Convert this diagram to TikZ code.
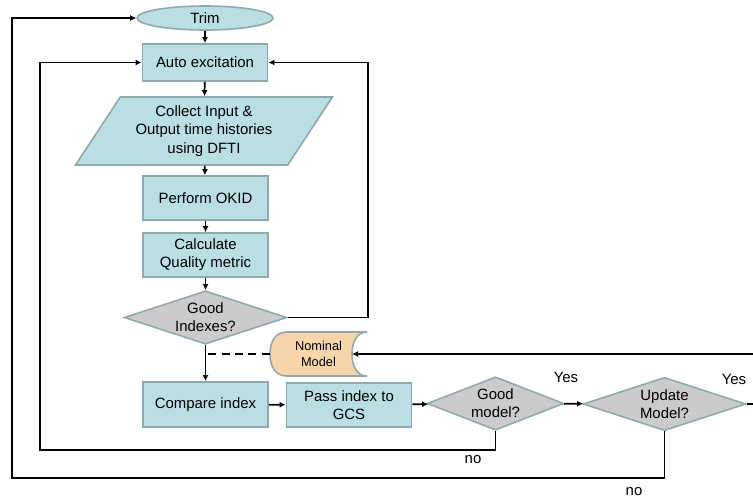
\documentclass[tikz,border=0pt]{standalone}
\usepackage{fontspec}
\setmainfont{Liberation Sans}
\usetikzlibrary{shapes.geometric,arrows.meta}
\definecolor{boxfill}{HTML}{B9DFE2}
\definecolor{boxline}{HTML}{8FA9AD}
\definecolor{decfill}{HTML}{CBCBCB}
\definecolor{nomfill}{HTML}{F7D4AA}
\tikzset{
  box/.style={draw=boxline, line width=1.2pt, fill=boxfill, minimum width=94pt, minimum height=33pt, align=center, inner sep=1pt},
  decision/.style={diamond, draw=boxline, line width=1.2pt, fill=decfill, aspect=3, inner sep=0pt, align=center, minimum width=122pt, minimum height=40pt},
  conn/.style={line width=1.3pt, -{Latex[length=4.5pt,width=4.5pt]}},
  line/.style={line width=1.3pt},
}
\begin{document}
\begin{tikzpicture}[x=0.75pt,y=-0.75pt,font=\fontsize{11.2}{13.7}\selectfont]
\useasboundingbox (0,0) rectangle (753,500);
% nominal model store
\fill[nomfill] (287,332) .. controls (275,332) and (270,342) .. (270,354) .. controls (270,366) and (275,376) .. (287,376) -- (367,376) .. controls (357,376) and (352,366) .. (352,354) .. controls (352,342) and (357,332) .. (367,332) -- cycle;
\draw[boxline, line width=1.2pt] (287,332) .. controls (275,332) and (270,342) .. (270,354) .. controls (270,366) and (275,376) .. (287,376) -- (367,376) .. controls (357,376) and (352,366) .. (352,354) .. controls (352,342) and (357,332) .. (367,332) -- cycle;
\path
(205,18) node [ellipse, draw=boxline, line width=1.2pt, fill=boxfill, minimum width=102pt, minimum height=18pt, inner sep=0pt] (trim) {Trim}
(205,62.5) node [box, minimum height=28pt] (auto) {Auto excitation}
(204,131) node [trapezium, trapezium left angle=54, trapezium right angle=126, trapezium stretches=true, draw=boxline, line width=1.2pt, fill=boxfill, minimum width=193pt, minimum height=51pt, align=center, inner sep=0pt] (collect) {Collect Input \&\\Output time histories\\using DFTI}
(205.5,198) node [box] (okid) {Perform OKID}
(205.5,255) node [box] (calc) {Calculate\\Quality metric}
(205.5,317.5) node [decision] (gidx) {Good\\Indexes?}
(318.5,354) node [minimum width=73pt, minimum height=33pt, inner sep=0pt, align=center, font=\fontsize{9.6}{12}\selectfont] (nominal) {Nominal\\Model}
(205.5,404.5) node [box, minimum height=34pt] (compare) {Compare index}
(349,405) node [box] (pass) {Pass index to\\GCS}
(495.5,403.5) node [decision, minimum width=101pt] (gmodel) {Good\\model?}
(664.5,404) node [decision] (umodel) {Update\\Model?}
(566,377) node (yes1) {Yes}
(734,379) node (yes2) {Yes}
(473,460) node (no1) {no}
(634,492) node (no2) {no};
\coordinate (nomin) at (352,354);

\draw[conn] (trim) -- (auto);
\draw[conn] (auto) -- (collect);
\draw[conn] (collect) -- (okid);
\draw[conn] (okid) -- (calc);
\draw[conn] (calc) -- (gidx);
\draw[conn] (gidx) -- (compare);
\draw[conn] (compare) -- (pass);
\draw[conn] (pass) -- (gmodel);
\draw[conn] (gmodel) -- (umodel);
\draw[conn] (gidx.east) -- ++(80,0) |- (auto.east);
\draw[line, dash pattern=on 6pt off 4pt] (nominal.west) -- (gidx.south |- nominal.west);
\draw[conn] (umodel.east) -- (760,404) |- (nomin);
\draw[conn] (gmodel.south) |- (40,450) |- (auto.west);
\draw[conn] (umodel.south) |- (12,478) |- (trim.west);
\end{tikzpicture}
\end{document}
